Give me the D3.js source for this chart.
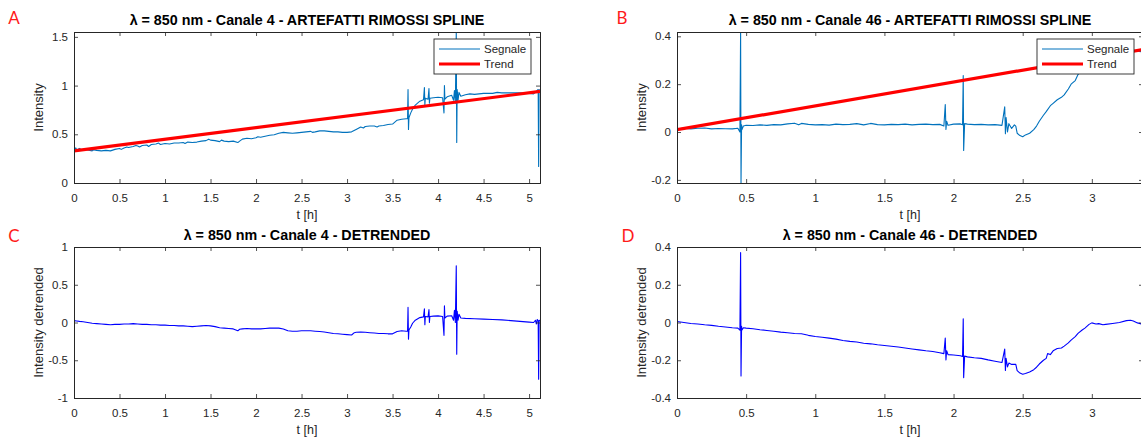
<!DOCTYPE html>
<html><head><meta charset="utf-8">
<script src="https://cdn.jsdelivr.net/npm/d3@7"></script>
<style>
body{margin:0;background:#fff}
svg{display:block}
text{font-family:"Liberation Sans",Arial,Helvetica,sans-serif}
</style>
</head><body>
<svg id="chart" width="1141" height="439"></svg>
<script>
// ---------- DATA ----------
const segnaleA = [[0,0.35],[0.02,0.36],[0.03,0.34],[0.06,0.355],[0.1,0.335],[0.12,0.345],[0.15,0.34],[0.2,0.33],[0.22,0.34],[0.25,0.335],[0.3,0.33],[0.35,0.335],[0.4,0.33],[0.45,0.345],[0.5,0.355],[0.52,0.345],[0.55,0.36],[0.58,0.37],[0.6,0.365],[0.65,0.375],[0.68,0.385],[0.7,0.38],[0.72,0.37],[0.75,0.385],[0.8,0.39],[0.82,0.375],[0.85,0.395],[0.9,0.4],[0.93,0.41],[0.95,0.395],[1.0,0.405],[1.05,0.4],[1.1,0.41],[1.15,0.41],[1.2,0.415],[1.22,0.405],[1.25,0.42],[1.3,0.415],[1.35,0.42],[1.4,0.43],[1.45,0.435],[1.48,0.45],[1.5,0.44],[1.55,0.435],[1.6,0.425],[1.62,0.44],[1.65,0.43],[1.7,0.425],[1.75,0.43],[1.8,0.415],[1.82,0.43],[1.85,0.45],[1.9,0.46],[1.95,0.455],[2.0,0.465],[2.02,0.475],[2.05,0.47],[2.1,0.48],[2.15,0.49],[2.2,0.495],[2.25,0.51],[2.3,0.52],[2.35,0.515],[2.4,0.51],[2.45,0.515],[2.5,0.52],[2.55,0.525],[2.6,0.53],[2.62,0.52],[2.65,0.525],[2.7,0.535],[2.75,0.535],[2.8,0.53],[2.85,0.525],[2.9,0.525],[2.95,0.52],[3.0,0.52],[3.05,0.525],[3.1,0.55],[3.15,0.575],[3.18,0.565],[3.2,0.58],[3.25,0.585],[3.3,0.585],[3.33,0.575],[3.35,0.585],[3.4,0.59],[3.45,0.6],[3.5,0.605],[3.55,0.645],[3.6,0.655],[3.65,0.66],[3.665,0.66],[3.67,0.96],[3.675,0.55],[3.68,0.67],[3.7,0.72],[3.72,0.76],[3.75,0.8],[3.8,0.84],[3.84,0.855],[3.85,0.98],[3.855,0.8],[3.86,0.87],[3.89,0.86],[3.9,0.97],[3.905,0.82],[3.91,0.87],[3.95,0.875],[4.0,0.88],[4.05,0.875],[4.065,0.72],[4.07,1.0],[4.075,0.86],[4.1,0.885],[4.15,0.9],[4.17,0.85],[4.18,0.95],[4.19,0.82],[4.2,1.55],[4.205,0.415],[4.21,0.96],[4.22,0.85],[4.23,0.93],[4.25,0.89],[4.3,0.905],[4.35,0.915],[4.4,0.91],[4.5,0.92],[4.6,0.92],[4.65,0.93],[4.7,0.925],[4.8,0.925],[4.9,0.925],[5.0,0.92],[5.05,0.915],[5.08,0.94],[5.1,0.96],[5.105,0.17],[5.11,0.95],[5.12,0.96]];
const trendA = [[0,0.33],[5.12,0.94]];
const detrendA = [[0,0.025],[0.03,0.02],[0.06,0.015],[0.1,0.01],[0.15,0.0],[0.2,-0.01],[0.25,-0.015],[0.3,-0.02],[0.35,-0.025],[0.4,-0.03],[0.45,-0.025],[0.5,-0.025],[0.55,-0.02],[0.6,-0.02],[0.65,-0.015],[0.7,-0.02],[0.75,-0.025],[0.8,-0.025],[0.85,-0.03],[0.9,-0.03],[0.95,-0.035],[1.0,-0.035],[1.05,-0.04],[1.1,-0.04],[1.15,-0.045],[1.2,-0.045],[1.25,-0.05],[1.3,-0.055],[1.35,-0.05],[1.4,-0.045],[1.45,-0.04],[1.5,-0.045],[1.55,-0.055],[1.6,-0.07],[1.65,-0.075],[1.7,-0.08],[1.75,-0.085],[1.8,-0.11],[1.82,-0.09],[1.85,-0.085],[1.9,-0.08],[1.95,-0.085],[2.0,-0.085],[2.05,-0.085],[2.1,-0.08],[2.15,-0.075],[2.2,-0.075],[2.25,-0.075],[2.3,-0.085],[2.35,-0.11],[2.4,-0.115],[2.45,-0.115],[2.5,-0.11],[2.55,-0.11],[2.6,-0.11],[2.65,-0.115],[2.7,-0.12],[2.75,-0.125],[2.8,-0.135],[2.85,-0.145],[2.9,-0.15],[2.95,-0.155],[3.0,-0.16],[3.05,-0.165],[3.08,-0.135],[3.1,-0.13],[3.15,-0.125],[3.2,-0.13],[3.25,-0.135],[3.3,-0.14],[3.35,-0.145],[3.4,-0.145],[3.45,-0.15],[3.5,-0.15],[3.55,-0.12],[3.6,-0.11],[3.65,-0.115],[3.665,-0.115],[3.67,0.2],[3.675,-0.22],[3.68,-0.1],[3.7,-0.06],[3.72,-0.01],[3.75,0.03],[3.8,0.065],[3.84,0.075],[3.85,0.18],[3.855,-0.03],[3.86,0.08],[3.89,0.075],[3.9,0.17],[3.905,0.0],[3.91,0.08],[3.95,0.085],[4.0,0.088],[4.05,0.08],[4.065,-0.17],[4.07,0.22],[4.075,0.06],[4.1,0.085],[4.15,0.09],[4.17,0.03],[4.18,0.16],[4.19,0.0],[4.2,0.75],[4.205,-0.42],[4.21,0.15],[4.22,0.03],[4.23,0.11],[4.25,0.06],[4.3,0.055],[4.4,0.05],[4.5,0.045],[4.6,0.04],[4.7,0.035],[4.8,0.025],[4.9,0.015],[5.0,0.005],[5.05,0.0],[5.07,0.03],[5.08,-0.02],[5.09,0.04],[5.1,0.02],[5.105,-0.75],[5.11,0.03],[5.12,0.02]];

const segnaleB = [[0,0.014],[0.05,0.016],[0.1,0.013],[0.15,0.016],[0.2,0.017],[0.25,0.013],[0.3,0.015],[0.35,0.014],[0.4,0.013],[0.44,0.016],[0.455,0.0],[0.46,0.42],[0.463,-0.213],[0.467,0.03],[0.47,0.01],[0.48,0.025],[0.5,0.028],[0.55,0.027],[0.6,0.03],[0.65,0.028],[0.7,0.031],[0.75,0.03],[0.8,0.034],[0.85,0.037],[0.88,0.03],[0.9,0.036],[0.95,0.032],[1.0,0.03],[1.05,0.031],[1.1,0.029],[1.15,0.033],[1.2,0.031],[1.25,0.032],[1.3,0.035],[1.35,0.03],[1.4,0.036],[1.45,0.031],[1.5,0.03],[1.55,0.032],[1.6,0.031],[1.65,0.033],[1.7,0.03],[1.75,0.032],[1.8,0.033],[1.85,0.031],[1.9,0.032],[1.93,0.025],[1.94,0.115],[1.945,0.011],[1.95,0.045],[1.96,0.028],[2.0,0.033],[2.05,0.034],[2.065,0.03],[2.07,0.236],[2.073,-0.077],[2.08,0.035],[2.1,0.033],[2.15,0.031],[2.2,0.032],[2.25,0.03],[2.3,0.031],[2.35,0.028],[2.37,0.105],[2.375,-0.007],[2.38,0.06],[2.39,0.0],[2.4,0.035],[2.42,0.015],[2.44,0.03],[2.45,0.025],[2.46,-0.005],[2.48,-0.015],[2.5,-0.02],[2.52,-0.012],[2.55,-0.005],[2.58,0.01],[2.6,0.025],[2.62,0.045],[2.65,0.07],[2.67,0.085],[2.7,0.11],[2.72,0.12],[2.75,0.135],[2.78,0.145],[2.8,0.155],[2.83,0.18],[2.85,0.2],[2.88,0.215],[2.9,0.24],[2.93,0.26],[2.95,0.275],[2.98,0.29],[3.0,0.305],[3.05,0.31],[3.1,0.315],[3.15,0.325],[3.2,0.33],[3.25,0.335],[3.3,0.34],[3.37,0.335]];
const trendB = [[0,0.01],[3.37,0.345]];
const detrendB = [[0,0.005],[0.05,0.0],[0.1,-0.005],[0.15,-0.008],[0.2,-0.012],[0.25,-0.015],[0.3,-0.02],[0.35,-0.024],[0.4,-0.028],[0.44,-0.03],[0.455,-0.04],[0.46,0.37],[0.463,-0.283],[0.467,-0.02],[0.47,-0.04],[0.48,-0.028],[0.5,-0.03],[0.55,-0.033],[0.6,-0.038],[0.65,-0.042],[0.7,-0.046],[0.75,-0.051],[0.8,-0.054],[0.85,-0.058],[0.9,-0.06],[0.95,-0.068],[1.0,-0.074],[1.05,-0.078],[1.1,-0.083],[1.15,-0.088],[1.2,-0.095],[1.25,-0.1],[1.3,-0.103],[1.35,-0.11],[1.4,-0.113],[1.45,-0.118],[1.5,-0.122],[1.55,-0.126],[1.6,-0.13],[1.65,-0.135],[1.7,-0.14],[1.75,-0.145],[1.8,-0.15],[1.85,-0.154],[1.9,-0.16],[1.93,-0.165],[1.94,-0.083],[1.945,-0.198],[1.95,-0.15],[1.96,-0.17],[2.0,-0.172],[2.05,-0.176],[2.065,-0.18],[2.07,0.02],[2.073,-0.292],[2.08,-0.178],[2.1,-0.182],[2.15,-0.187],[2.2,-0.19],[2.25,-0.198],[2.3,-0.205],[2.35,-0.212],[2.37,-0.141],[2.375,-0.254],[2.38,-0.19],[2.39,-0.235],[2.4,-0.215],[2.42,-0.222],[2.45,-0.222],[2.46,-0.255],[2.48,-0.268],[2.5,-0.274],[2.52,-0.27],[2.55,-0.262],[2.58,-0.25],[2.6,-0.237],[2.62,-0.22],[2.65,-0.2],[2.67,-0.19],[2.68,-0.165],[2.7,-0.17],[2.72,-0.15],[2.75,-0.138],[2.78,-0.135],[2.8,-0.125],[2.83,-0.108],[2.85,-0.093],[2.88,-0.075],[2.9,-0.058],[2.93,-0.04],[2.95,-0.03],[2.98,-0.01],[3.0,-0.002],[3.03,-0.008],[3.05,-0.006],[3.08,-0.012],[3.1,-0.01],[3.15,-0.005],[3.2,0.0],[3.25,0.01],[3.28,0.012],[3.3,0.008],[3.33,-0.002],[3.37,-0.01]];

const xTicksA = [0,0.5,1,1.5,2,2.5,3,3.5,4,4.5,5];
const xTicksB = [0,0.5,1,1.5,2,2.5,3];
const yTicksA = [0,0.5,1,1.5];
const yTicksB = [-0.2,0,0.2,0.4];
const yTicksC = [-1,-0.5,0,0.5,1];
const yTicksD = [-0.4,-0.2,0,0.2,0.4];
const legendLabels = ["Segnale","Trend"];
const titles = ["\u03bb = 850 nm - Canale 4 - ARTEFATTI RIMOSSI SPLINE",
                "\u03bb = 850 nm - Canale 46 - ARTEFATTI RIMOSSI SPLINE",
                "\u03bb = 850 nm - Canale 4 - DETRENDED",
                "\u03bb = 850 nm - Canale 46 - DETRENDED"];
const letters = ["A","B","C","D"];

// ---------- LAYOUT ----------
const svg = d3.select("#chart");
const AX = "#262626";
const panels = [
  {l:74, r:540, t:32, b:183, xd:[0,5.12], yd:[0,1.55], xt:xTicksA, yt:yTicksA, title:titles[0], letter:letters[0], lx:14, ly:24, ylab:"Intensity",
   series:[{d:segnaleA,c:"#0072BD",w:1.1},{d:trendA,c:"#FF0000",w:3.2}], legend:true},
  {l:677, r:1143, t:32, b:183, xd:[0,3.37], yd:[-0.213,0.418], xt:xTicksB, yt:yTicksB, title:titles[1], letter:letters[1], lx:622, ly:24, ylab:"Intensity",
   series:[{d:segnaleB,c:"#0072BD",w:1.1},{d:trendB,c:"#FF0000",w:3.2}], legend:true},
  {l:74, r:540, t:247, b:398, xd:[0,5.12], yd:[-1,1], xt:xTicksA, yt:yTicksC, title:titles[2], letter:letters[2], lx:14, ly:242, ylab:"Intensity detrended",
   series:[{d:detrendA,c:"#0000FF",w:1.1}], legend:false},
  {l:677, r:1143, t:247, b:398, xd:[0,3.37], yd:[-0.4,0.4], xt:xTicksB, yt:yTicksD, title:titles[3], letter:letters[3], lx:628, ly:242, ylab:"Intensity detrended",
   series:[{d:detrendB,c:"#0000FF",w:1.1}], legend:false}
];

panels.forEach((p,i)=>{
  const x = d3.scaleLinear().domain(p.xd).range([p.l,p.r]);
  const y = d3.scaleLinear().domain(p.yd).range([p.b,p.t]);
  const g = svg.append("g");
  const cid = "clip"+i;
  svg.append("clipPath").attr("id",cid).append("rect")
    .attr("x",p.l).attr("y",p.t).attr("width",p.r-p.l).attr("height",p.b-p.t);
  g.append("rect").attr("x",p.l).attr("y",p.t).attr("width",p.r-p.l).attr("height",p.b-p.t).attr("fill","#fff");

  const line = d3.line().x(d=>x(d[0])).y(d=>y(d[1]));
  const sg = g.append("g").attr("clip-path",`url(#${cid})`);
  p.series.forEach(s=>{
    sg.append("path").attr("d",line(s.d)).attr("fill","none")
      .attr("stroke",s.c).attr("stroke-width",s.w).attr("stroke-linejoin","round");
  });

  const tl = 4;
  const fmt = v => String(v);
  const bottom = d3.axisBottom(x).tickValues(p.xt).tickSize(-tl).tickPadding(11).tickFormat(fmt);
  const top = d3.axisTop(x).tickValues(p.xt).tickSize(-tl).tickFormat("");
  const left = d3.axisLeft(y).tickValues(p.yt).tickSize(-tl).tickPadding(6).tickFormat(fmt);
  const right = d3.axisRight(y).tickValues(p.yt).tickSize(-tl).tickFormat("");
  const style = sel => { sel.selectAll("path").attr("stroke",AX).attr("stroke-width",1);
                         sel.selectAll("line").attr("stroke",AX).attr("stroke-width",0.8);
                         sel.selectAll("text").attr("fill",AX).style("font-size","11.5px")
                            .style("font-family",'"Liberation Sans",Arial,sans-serif'); };
  g.append("g").attr("transform",`translate(0,${p.b})`).call(bottom).call(style);
  g.append("g").attr("transform",`translate(0,${p.t})`).call(top).call(style);
  g.append("g").attr("transform",`translate(${p.l},0)`).call(left).call(style);
  g.append("g").attr("transform",`translate(${p.r},0)`).call(right).call(style);

  g.append("text").attr("x",(p.l+p.r)/2).attr("y",p.b+36).attr("text-anchor","middle")
    .attr("fill",AX).style("font-size","12.5px").text("t [h]");
  g.append("text").attr("transform",`translate(${p.l-31},${(p.t+p.b)/2}) rotate(-90)`)
    .attr("text-anchor","middle").attr("fill",AX).style("font-size","13px").text(p.ylab);
  g.append("text").attr("x",(p.l+p.r)/2).attr("y",p.t-7).attr("text-anchor","middle")
    .attr("fill","#000").style("font-size","14.3px").style("font-weight","bold").text(p.title);
  g.append("text").attr("x",p.lx).attr("y",p.ly).attr("text-anchor","middle")
    .attr("fill","#FF1A1A").style("font-size","17px").style("font-family","Lato,'Open Sans',sans-serif").text(p.letter);

  if(p.legend){
    const lw = 97, lh = 35, lx = p.r - 9 - lw, ly = p.t + 7;
    const lg = g.append("g");
    lg.append("rect").attr("x",lx).attr("y",ly).attr("width",lw).attr("height",lh)
      .attr("fill","#fff").attr("stroke",AX).attr("stroke-width",0.9);
    p.series.forEach((s,k)=>{
      const yy = ly + 10 + k*15;
      lg.append("line").attr("x1",lx+5).attr("x2",lx+46).attr("y1",yy).attr("y2",yy)
        .attr("stroke",s.c).attr("stroke-width",s.w);
      lg.append("text").attr("x",lx+50).attr("y",yy+4).attr("fill",AX)
        .style("font-size","11.5px").text(legendLabels[k]);
    });
  }
});
</script>
</body></html>
